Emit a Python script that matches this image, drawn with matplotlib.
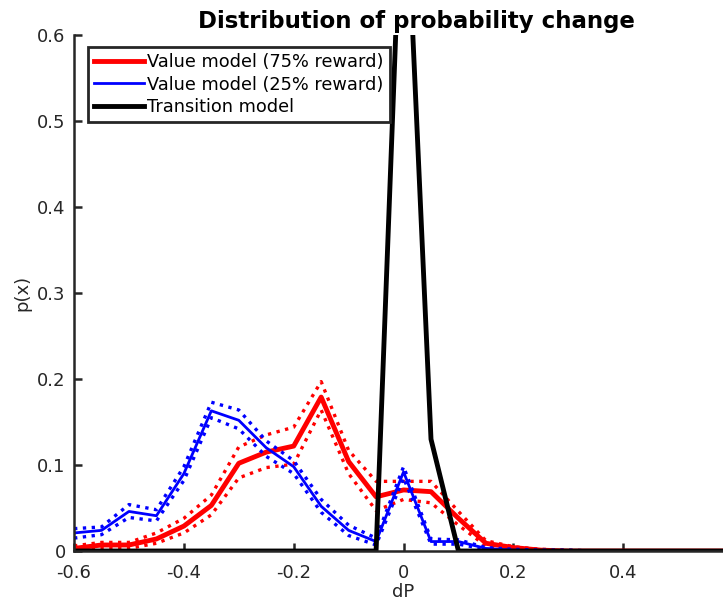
import matplotlib
matplotlib.use('Agg')
import matplotlib.pyplot as plt

plt.rcParams['font.family'] = 'DejaVu Sans'
plt.rcParams['axes.unicode_minus'] = False

# data
dp = [-0.6, -0.55, -0.5, -0.45, -0.4, -0.35, -0.3, -0.25, -0.2, -0.15, -0.1, -0.05,
      0.0, 0.05, 0.1, 0.15, 0.2, 0.25, 0.3, 0.35, 0.4, 0.45, 0.5, 0.55, 0.6]

red_mean = [0.003, 0.007, 0.007, 0.014, 0.029, 0.053, 0.102, 0.115, 0.122, 0.179, 0.104, 0.063,
            0.071, 0.069, 0.038, 0.009, 0.004, 0.001, 0, 0, 0, 0, 0, 0, 0]
red_hi = [0.006, 0.010, 0.010, 0.021, 0.038, 0.065, 0.121, 0.135, 0.144, 0.197, 0.117, 0.081,
          0.081, 0.081, 0.046, 0.012, 0.005, 0.002, 0.001, 0, 0, 0, 0, 0, 0]
red_lo = [0.001, 0.004, 0.003, 0.009, 0.021, 0.042, 0.085, 0.097, 0.101, 0.164, 0.090, 0.047,
          0.060, 0.056, 0.030, 0.006, 0.002, 0.0, 0, 0, 0, 0, 0, 0, 0]

blue_mean = [0.021, 0.024, 0.046, 0.041, 0.090, 0.163, 0.152, 0.120, 0.098, 0.052, 0.024, 0.011,
             0.092, 0.011, 0.011, 0.003, 0.001, 0.0, 0, 0, 0, 0, 0, 0, 0]
blue_hi = [0.026, 0.028, 0.054, 0.048, 0.098, 0.173, 0.164, 0.128, 0.105, 0.060, 0.030, 0.015,
           0.098, 0.014, 0.013, 0.004, 0.002, 0.001, 0.001, 0, 0, 0, 0, 0, 0]
blue_lo = [0.015, 0.019, 0.039, 0.035, 0.082, 0.155, 0.142, 0.110, 0.090, 0.045, 0.018, 0.007,
           0.085, 0.008, 0.008, 0.002, 0.0, 0.0, 0, 0, 0, 0, 0, 0, 0]

trans = [0, 0, 0, 0, 0, 0, 0, 0, 0, 0, 0, 0,
         0.84, 0.13, 0, 0, 0, 0, 0, 0, 0, 0, 0, 0, 0]

labels = ['Value model (75% reward)', 'Value model (25% reward)', 'Transition model']
xticks = [-0.6, -0.4, -0.2, 0, 0.2, 0.4]
xticklabels = ['-0.6', '-0.4', '-0.2', '0', '0.2', '0.4']
yticks = [0, 0.1, 0.2, 0.3, 0.4, 0.5, 0.6]
yticklabels = ['0', '0.1', '0.2', '0.3', '0.4', '0.5', '0.6']

fig = plt.figure(figsize=(7.23, 6.02), dpi=100)
ax = fig.add_axes([0.1024, 0.0847, 0.9115, 0.8572])

ax.plot(dp, red_mean, color='red', lw=3.5, label=labels[0])
ax.plot(dp, red_hi, color='red', lw=2.4, ls=':')
ax.plot(dp, red_lo, color='red', lw=2.4, ls=':')
ax.plot(dp, blue_mean, color='blue', lw=2, label=labels[1])
ax.plot(dp, blue_hi, color='blue', lw=2.4, ls=':')
ax.plot(dp, blue_lo, color='blue', lw=2.4, ls=':')
ax.plot(dp, trans, color='black', lw=3.5, label=labels[2])

ax.set_xlim(-0.6, 0.6)
ax.set_ylim(0, 0.6)
ax.set_xticks(xticks)
ax.set_xticklabels(xticklabels)
ax.set_yticks(yticks)
ax.set_yticklabels(yticklabels)

for s in ['top', 'right']:
    ax.spines[s].set_visible(False)
for s in ['left', 'bottom']:
    ax.spines[s].set_color('#262626')
    ax.spines[s].set_linewidth(1.8)
ax.tick_params(direction='in', length=6, width=1.8, color='#262626',
               labelsize=13, labelcolor='#262626')
ax.tick_params(axis='x', pad=9)
ax.tick_params(axis='y', pad=6)

ax.set_xlabel('dP', fontsize=13, color='#262626', labelpad=1)
ax.set_ylabel('p(x)', fontsize=13, color='#262626', labelpad=4)
ax.set_title('Distribution of probability change', fontsize=16.5, fontweight='bold',
             pad=5, x=0.52)

leg = ax.legend(loc='upper left', bbox_to_anchor=(0.021, 0.977), fontsize=12.8,
                fancybox=False, framealpha=1, borderpad=0.35, labelspacing=0.25,
                handlelength=2.8, handletextpad=0.2, borderaxespad=0)
leg.get_frame().set_edgecolor('#262626')
leg.get_frame().set_linewidth(2)

plt.savefig('out.png', dpi=100, facecolor='white')
plt.close()
